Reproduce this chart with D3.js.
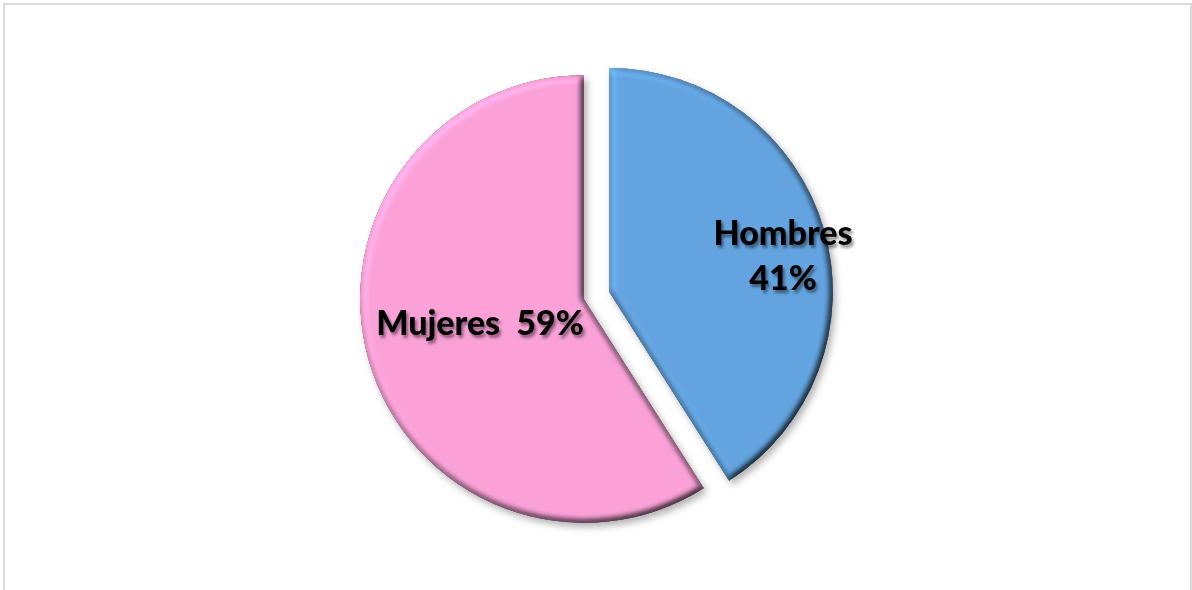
<!DOCTYPE html>
<html>
<head>
<meta charset="utf-8">
<script src="https://cdn.jsdelivr.net/npm/d3@7"></script>
<style>
  html, body { margin: 0; padding: 0; background: #fff; }
  svg { display: block; }
</style>
</head>
<body>
<svg id="chart" width="1192" height="590"></svg>
<script>
// Gender split of respondents
const categories = ["Hombres", "Mujeres"];
const values = [41, 59];
const sliceColors = ["#63a5e1", "#fba2d8"];

const W = 1192, H = 590;
const cx = 584, cy = 299, radius = 224;
const explode = 26; // offset of the detached slice

const svg = d3.select("#chart");

// Frame
svg.append("rect")
  .attr("x", 4).attr("y", 4)
  .attr("width", W - 5).attr("height", H + 10)
  .attr("fill", "#fff")
  .attr("stroke", "#d9d9d9").attr("stroke-width", 2);

const defs = svg.append("defs");

// Soft bevel with light from the upper left, plus a drop shadow
const elev = 64 * Math.PI / 180;
const bevel = defs.append("filter").attr("id", "bevel")
  .attr("x", "-10%").attr("y", "-10%").attr("width", "125%").attr("height", "125%")
  .attr("color-interpolation-filters", "sRGB");
bevel.append("feGaussianBlur").attr("in", "SourceAlpha").attr("stdDeviation", 3.5).attr("result", "blur");
const diff = bevel.append("feDiffuseLighting").attr("in", "blur")
  .attr("surfaceScale", 5).attr("diffuseConstant", 0.5 / Math.sin(elev))
  .attr("lighting-color", "#fff").attr("result", "light");
diff.append("feDistantLight").attr("azimuth", 225).attr("elevation", 64);
bevel.append("feComposite").attr("in", "SourceGraphic").attr("in2", "light")
  .attr("operator", "arithmetic").attr("k1", 2).attr("k2", 0).attr("k3", 0).attr("k4", 0)
  .attr("result", "lit");
bevel.append("feComposite").attr("in", "lit").attr("in2", "SourceAlpha")
  .attr("operator", "in").attr("result", "shaded");
bevel.append("feGaussianBlur").attr("in", "SourceAlpha").attr("stdDeviation", 3.5).attr("result", "sblur");
bevel.append("feOffset").attr("in", "sblur").attr("dx", 3).attr("dy", 4).attr("result", "soff");
bevel.append("feFlood").attr("flood-color", "#000").attr("flood-opacity", 0.3).attr("result", "sc");
bevel.append("feComposite").attr("in", "sc").attr("in2", "soff").attr("operator", "in").attr("result", "shadow");
const bm = bevel.append("feMerge");
bm.append("feMergeNode").attr("in", "shadow");
bm.append("feMergeNode").attr("in", "shaded");

// Text shadow
const ts = defs.append("filter").attr("id", "textShadow")
  .attr("x", "-10%").attr("y", "-20%").attr("width", "130%").attr("height", "150%");
ts.append("feGaussianBlur").attr("in", "SourceAlpha").attr("stdDeviation", 1.6).attr("result", "tb");
ts.append("feOffset").attr("in", "tb").attr("dx", 2).attr("dy", 2.5).attr("result", "to");
ts.append("feFlood").attr("flood-color", "#000").attr("flood-opacity", 0.45).attr("result", "tc");
ts.append("feComposite").attr("in", "tc").attr("in2", "to").attr("operator", "in").attr("result", "tsh");
const tm = ts.append("feMerge");
tm.append("feMergeNode").attr("in", "tsh");
tm.append("feMergeNode").attr("in", "SourceGraphic");

const data = categories.map((c, i) => ({ name: c, value: values[i], color: sliceColors[i] }));
const pie = d3.pie().value(d => d.value).sort(null);
const arcs = pie(data);
const arc = d3.arc().innerRadius(0).outerRadius(radius);

const g = svg.append("g").attr("transform", `translate(${cx},${cy})`);

const offsetOf = d => {
  if (d.data.name !== "Hombres") return [0, 0];
  const mid = (d.startAngle + d.endAngle) / 2;
  return [Math.sin(mid) * explode, -Math.cos(mid) * explode];
};

g.selectAll("path.slice")
  .data(arcs)
  .join("path")
  .attr("class", "slice")
  .attr("transform", d => `translate(${offsetOf(d)})`)
  .attr("d", arc)
  .attr("fill", d => d.data.color)
  .attr("filter", "url(#bevel)");

// Data labels
const total = d3.sum(values);
const pct = d => Math.round(d.value / total * 100) + "%";
const labelPos = {
  Hombres: [199, -54],
  Mujeres: [-104, 36]
};

const labels = g.selectAll("text.lbl")
  .data(arcs)
  .join("text")
  .attr("class", "lbl")
  .attr("text-anchor", "middle")
  .attr("font-family", "Lato, 'Open Sans', sans-serif")
  .attr("font-weight", 900)
  .attr("font-size", 34)
  .attr("fill", "#000")
  .attr("filter", "url(#textShadow)")
  .attr("transform", d => `translate(${labelPos[d.data.name]})`);

labels.each(function (d) {
  const t = d3.select(this);
  if (d.data.name === "Hombres") {
    t.append("tspan").attr("x", 0).attr("y", 0).text(d.data.name);
    t.append("tspan").attr("x", 0).attr("y", 45).text(pct(d.data));
  } else {
    t.append("tspan").attr("x", 0).attr("y", 0)
      .attr("xml:space", "preserve").style("white-space", "pre")
      .text(d.data.name + "  " + pct(d.data));
  }
});
</script>
</body>
</html>
